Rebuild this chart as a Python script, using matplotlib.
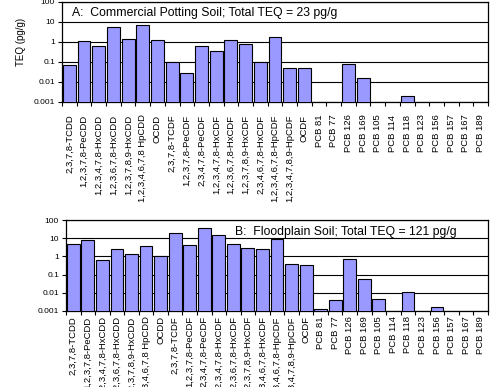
import numpy as np
import matplotlib
matplotlib.use('Agg')
import matplotlib.pyplot as plt

plt.rcParams['font.family'] = ['Liberation Sans', 'DejaVu Sans']

congeners = [
    '2,3,7,8-TCDD', '1,2,3,7,8-PeCDD', '1,2,3,4,7,8-HxCDD', '1,2,3,6,7,8-HxCDD',
    '1,2,3,7,8,9-HxCDD', '1,2,3,4,6,7,8 HpCDD', 'OCDD',
    '2,3,7,8-TCDF', '1,2,3,7,8-PeCDF', '2,3,4,7,8-PeCDF', '1,2,3,4,7,8-HxCDF',
    '1,2,3,6,7,8-HxCDF', '1,2,3,7,8,9-HxCDF', '2,3,4,6,7,8-HxCDF',
    '1,2,3,4,6,7,8-HpCDF', '1,2,3,4,7,8,9-HpCDF', 'OCDF',
    'PCB 81', 'PCB 77', 'PCB 126', 'PCB 169', 'PCB 105', 'PCB 114', 'PCB 118',
    'PCB 123', 'PCB 156', 'PCB 157', 'PCB 167', 'PCB 189',
]

# TEQ (pg/g); 0 = no bar
potting_soil = [0.068, 1.1, 0.6, 5.4, 1.4, 7.3, 1.2,
                0.105, 0.028, 0.6, 0.37, 1.2, 0.77, 0.1, 1.8, 0.05, 0.05,
                0, 0, 0.08, 0.016, 0, 0, 0.0019, 0, 0, 0, 0, 0]
floodplain_soil = [4.9, 8.1, 0.62, 2.5, 1.35, 3.9, 1.1,
                   21, 4.3, 38, 16, 4.9, 2.9, 2.5, 9.6, 0.38, 0.35,
                   0.0012, 0.0038, 0.68, 0.06, 0.0046, 0, 0.0105, 0, 0.0016, 0, 0, 0]

titles = ['A:  Commercial Potting Soil; Total TEQ = 23 pg/g',
          'B:  Floodplain Soil; Total TEQ = 121 pg/g']
ytick_vals = [0.001, 0.01, 0.1, 1, 10, 100]
ytick_labels = ['0.001', '0.01', '0.1', '1', '10', '100']

W, H = 490, 387
fig = plt.figure(figsize=(W / 100, H / 100), dpi=100)


def make_axes(left, right, top, bottom):
    # pixel box -> figure fraction
    return fig.add_axes([left / W, 1 - bottom / H, (right - left) / W, (bottom - top) / H])


ax1 = make_axes(62, 488, 2, 102)
ax2 = make_axes(66, 488, 220.3, 310.7)

panels = [(ax1, potting_soil, titles[0], (0.023, 0.89), 9),
          (ax2, floodplain_soil, titles[1], (0.40, 0.87), 4)]

x = np.arange(len(congeners))
for ax, vals, title, pos, lpad in panels:
    vals = np.array(vals, dtype=float)
    shown = vals > 0
    ax.bar(x[shown], vals[shown], width=0.88,
           color='#9999FF', edgecolor='black', linewidth=0.8, zorder=3)
    ax.set_yscale('log')
    ax.set_ylim(0.001, 100)
    ax.set_xlim(-0.5, len(congeners) - 0.5)
    ax.set_yticks(ytick_vals)
    ax.set_yticklabels(ytick_labels)
    ax.minorticks_off()
    ax.yaxis.grid(True, color='black', linewidth=0.8, zorder=0)
    ax.set_axisbelow(True)
    ax.tick_params(axis='y', labelsize=6, length=3, width=0.8, pad=2)
    # ticks between categories, labels centred under bars
    ax.set_xticks(np.arange(len(congeners) + 1) - 0.5)
    ax.set_xticklabels([])
    ax.set_xticks(x, minor=True)
    ax.set_xticklabels(congeners, minor=True, rotation=90, fontsize=6.8)
    ax.tick_params(axis='x', which='major', length=3, width=0.8)
    ax.tick_params(axis='x', which='minor', length=0, pad=lpad)
    for s in ax.spines.values():
        s.set_linewidth(0.9)
    ax.text(pos[0], pos[1], title, transform=ax.transAxes, fontsize=8.8,
            va='center', ha='left', zorder=5)

ax1.set_ylabel('TEQ (pg/g)', fontsize=7)
ax1.yaxis.set_label_coords(-0.085, 0.6)

fig.savefig('out.png', dpi=100)
